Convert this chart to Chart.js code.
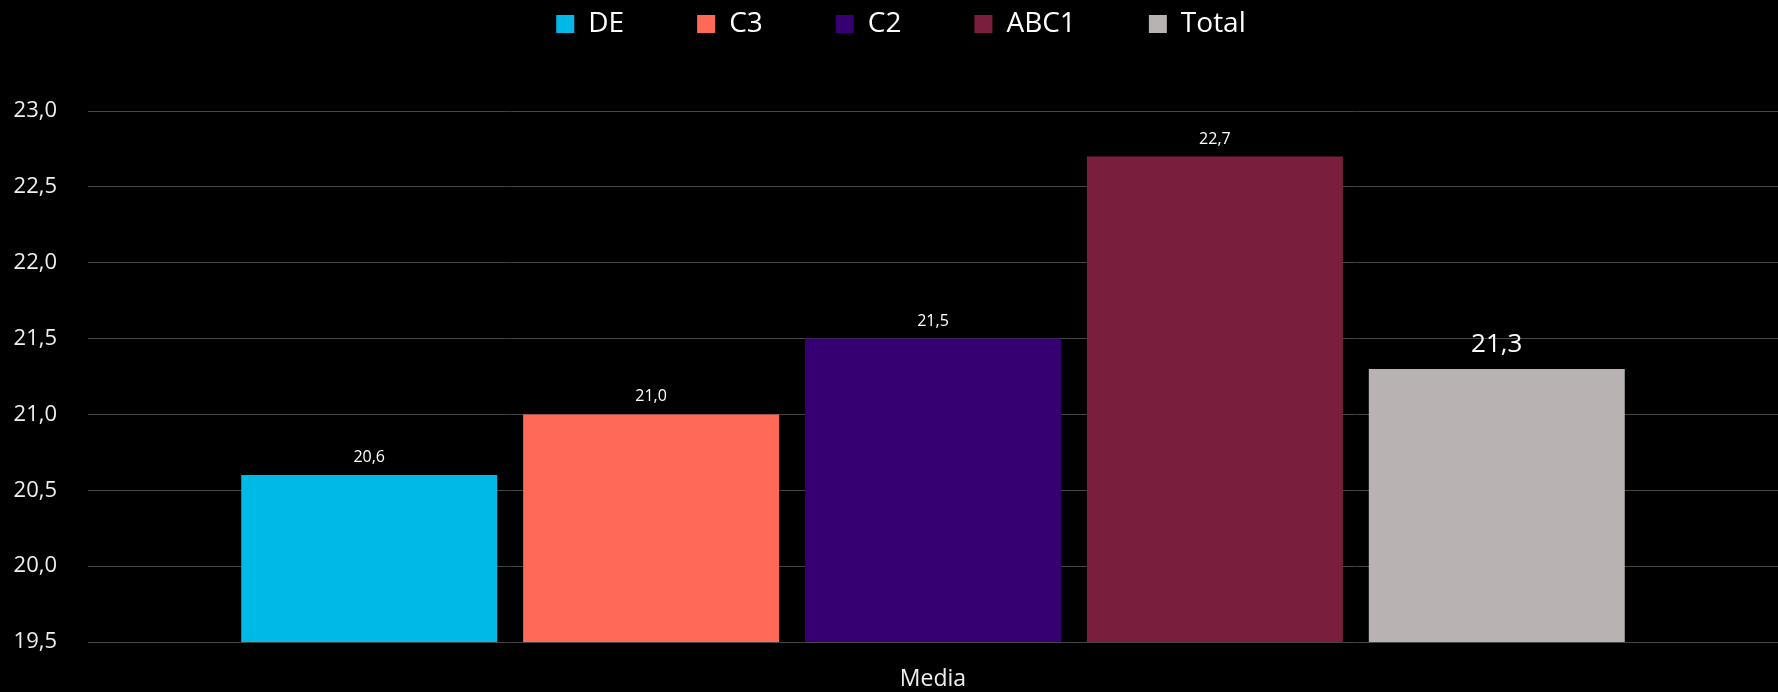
<!DOCTYPE html>
<html>
<head>
<meta charset="utf-8">
<title>Media</title>
<script src="https://cdn.jsdelivr.net/npm/chart.js@4.4.1/dist/chart.umd.min.js"></script>
<style>
  html, body { margin: 0; padding: 0; background: #000; }
  .chart-wrap { position: relative; width: 1778px; height: 692px; }
</style>
</head>
<body>
<div class="chart-wrap"><canvas id="barChart"></canvas></div>
<script>
/* ================= DATA ================= */
const categories = ["Media"];
const seriesNames = ["DE", "C3", "C2", "ABC1", "Total"];
const deValues = [20.6];
const c3Values = [21.0];
const c2Values = [21.5];
const abc1Values = [22.7];
const totalValues = [21.3];
const yTickValues = [19.5, 20.0, 20.5, 21.0, 21.5, 22.0, 22.5, 23.0];

/* ================= STYLE ================= */
const seriesColors = ["#00b9e7", "#ff6957", "#360073", "#7a1e3e", "#b8b2b2"];
const fmt = v => Number(v).toFixed(1).replace(".", ",");

Chart.defaults.font.family = '"Open Sans", sans-serif';

/* value above each bar, the Total one is bigger */
const valueLabels = {
  id: "valueLabels",
  afterDatasetsDraw(chart) {
    const ctx = chart.ctx;
    ctx.save();
    ctx.fillStyle = "#ffffff";
    ctx.textAlign = "center";
    ctx.textBaseline = "alphabetic";
    chart.data.datasets.forEach((ds, i) => {
      const big = i === chart.data.datasets.length - 1;
      ctx.font = (big ? 26 : 16) + 'px "Open Sans"';
      chart.getDatasetMeta(i).data.forEach((bar, j) => {
        ctx.fillText(fmt(ds.data[j]), bar.x, bar.y - (big ? 17 : 13));
      });
    });
    ctx.restore();
  }
};

/* legend padding spaces the items wide apart, pull the row back up
   and nudge it a bit right like the original */
const placeLegend = {
  id: "placeLegend",
  afterUpdate(chart) {
    const legend = chart.legend;
    if (!legend) return;
    legend.top -= 63;
    legend.bottom -= 63;
    legend.left += 9;
    legend.right += 9;
    (legend.legendHitBoxes || []).forEach(b => { b.top -= 63; b.left += 9; });
  }
};

const allSeries = [deValues, c3Values, c2Values, abc1Values, totalValues];

new Chart(document.getElementById("barChart"), {
  type: "bar",
  data: {
    labels: categories,
    datasets: allSeries.map((values, i) => ({
      label: seriesNames[i],
      data: values,
      backgroundColor: seriesColors[i],
      borderWidth: 0,
      categoryPercentage: 0.834,
      barPercentage: 0.908
    }))
  },
  options: {
    responsive: true,
    maintainAspectRatio: false,
    animation: false,
    events: [],
    layout: { padding: { left: 6, right: 0, top: 0, bottom: 0 } },
    plugins: {
      tooltip: { enabled: false },
      legend: {
        position: "top",
        align: "center",
        maxHeight: 111,
        labels: {
          color: "#ffffff",
          font: { size: 28 },
          boxWidth: 18,
          boxHeight: 18,
          padding: 73
        }
      }
    },
    scales: {
      x: {
        grid: { display: false, drawTicks: false },
        border: { display: false },
        ticks: { color: "#eeeeee", font: { size: 23 }, padding: 24 },
        afterFit(scale) { scale.height = 50; }
      },
      y: {
        min: yTickValues[0],
        max: yTickValues[yTickValues.length - 1],
        afterBuildTicks(scale) { scale.ticks = yTickValues.map(v => ({ value: v })); },
        ticks: { color: "#eeeeee", font: { size: 22 }, padding: 31, callback: v => fmt(v) },
        grid: { color: "#454545", lineWidth: 1, drawTicks: false },
        border: { display: false },
        afterFit(scale) { scale.width = 82; }
      }
    }
  },
  plugins: [valueLabels, placeLegend]
});
</script>
</body>
</html>
